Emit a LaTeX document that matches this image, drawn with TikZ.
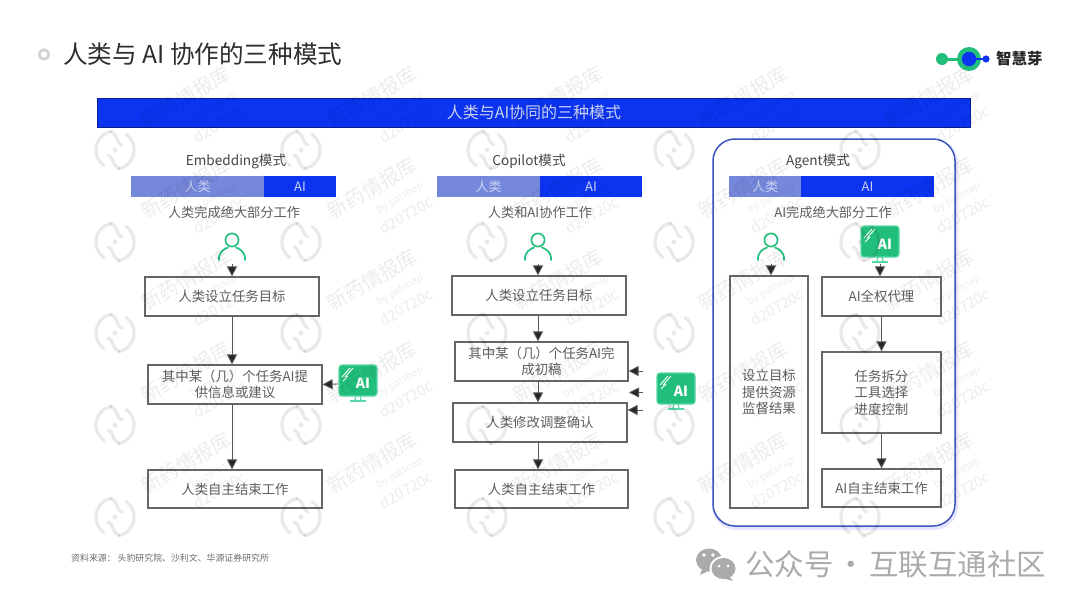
\documentclass[tikz,border=0pt]{standalone}
\usepackage{fontspec}
\setmainfont{Noto Sans CJK SC}
\usetikzlibrary{arrows.meta}
\definecolor{bluemain}{HTML}{0B33F0}
\definecolor{bluesoft}{HTML}{7688DC}
\definecolor{softtxt}{HTML}{CBD3F3}
\definecolor{greenmain}{HTML}{22BE7C}
\definecolor{greenlite}{HTML}{58D8A6}
\definecolor{txt}{HTML}{5E5E5E}
\definecolor{frame}{HTML}{3D55BE}
\definecolor{foot}{HTML}{ABABAB}
\tikzset{
  taskbox/.style={draw=black!60,line width=1.2pt,fill=white,align=center,text=txt,font=\fontsize{13.4}{16.5}\selectfont,inner sep=0pt},
  headbar/.style={fill=bluemain,text=softtxt,font=\fontsize{16}{18}\selectfont,inner sep=0pt,minimum height=29pt,minimum width=873pt},
  segh/.style={fill=bluesoft,text=softtxt,font=\fontsize{13}{15}\selectfont,inner sep=0pt,minimum height=21pt},
  sega/.style={fill=bluemain,text=softtxt,font=\fontsize{13}{15}\selectfont,inner sep=0pt,minimum height=21pt},
  modetitle/.style={text=black!72,font=\fontsize{13.6}{16}\selectfont,inner sep=0pt},
  modenote/.style={text=txt,font=\fontsize{13.2}{16}\selectfont,inner sep=0pt},
  iconspot/.style={inner sep=0pt,minimum width=28pt,minimum height=34pt},
  screenspot/.style={inner sep=0pt,minimum width=40pt,minimum height=38pt},
  flow/.style={draw=black!65,line width=.9pt,-{Triangle[length=10pt,width=10pt,fill=black!85]}},
  wmtext/.style={text=black,opacity=.075,rotate=30,inner sep=0pt},
  pics/person/.style={code={
    \draw[greenmain,line width=1.7pt] (0,-7) circle[radius=6.6];
    \draw[greenmain,line width=1.7pt,line cap=round] (-13,13) .. controls (-13.5,5) and (-8,2) .. (-4,0.5);
    \draw[greenmain,line width=1.7pt,line cap=round] (13,13) .. controls (13.5,5) and (8,2) .. (4,0.5);
  }},
  pics/aiscreen/.style={code={
    \draw[greenlite,fill=greenmain,line width=1.2pt,rounded corners=3pt] (-19,-19) rectangle (19,12);
    \draw[greenlite,line width=1.2pt] (-2,12) -- (-3,16) (2,12) -- (3,16);
    \draw[greenlite,line width=1.3pt] (-8,17) -- (8,17);
    \draw[white,line width=.9pt] (-16,-7) -- (-8,-16) (-13,-7) -- (-5,-16) (-15,-3) -- (-10,-8);
    \node[text=white,inner sep=0pt,font=\bfseries\fontsize{14}{14}\selectfont] at (5,-1) {AI};
  }},
  pics/wmlogo/.style={code={
    \begin{scope}[yscale=-1,opacity=.085,draw=black,line cap=round]
      \draw[line width=3.2pt] (-4,18.6) arc[start angle=102,end angle=235,radius=19];
      \draw[line width=3.2pt] (4,-18.6) arc[start angle=-78,end angle=55,radius=19];
      \draw[line width=3.2pt] (-4,18.6) .. controls (5,13) and (0,8) .. (7,5);
      \draw[line width=3.2pt] (4,-18.6) .. controls (-5,-13) and (0,-8) .. (-7,-5);
      \fill[black] (0,0) circle[radius=2.5];
    \end{scope}
  }}
}
\begin{document}
\begin{tikzpicture}[x=1pt,y=-1pt]
\useasboundingbox (0,0) rectangle (1080,608);
\fill[white] (0,0) rectangle (1080,608);

% heading
\draw[black!18,line width=2.6pt] (44,54.5) circle[radius=4.8];
\node[anchor=west,inner sep=0pt,text=black!82,font=\fontsize{24.6}{28}\selectfont] (maintitle) at (63,54) {人类与 AI 协作的三种模式};

% brand mark
\draw[greenmain,line width=3pt] (942,59) -- (969,59);
\fill[greenmain] (942,59) circle[radius=6];
\fill[greenmain] (969,59) circle[radius=12];
\draw[bluemain,line width=1.5pt] (969,59) -- (986,59);
\fill[bluemain] (969,59) circle[radius=7.2];
\fill[bluemain] (986,59) circle[radius=3.6];
\node[anchor=west,inner sep=0pt,text=black!85,font=\bfseries\fontsize{15.4}{16}\selectfont] (brand) at (996,59) {智慧芽};

% banner
\node[headbar,draw=black!40!bluemain,line width=.6pt] (banner) at (534,112.5) {人类与AI协同的三种模式};

% agent frame
\draw[blue!10,line width=4pt,rounded corners=22pt] (714,141) rectangle (956,528);
\draw[frame,line width=1.5pt,fill=white,rounded corners=22pt] (713,139) rectangle (955,526);

% Embedding column
\node[modetitle] (t1) at (236,161) {Embedding模式};
\node[segh,minimum width=133pt] (h1) at (197.5,186.5) {人类};
\node[sega,minimum width=72pt] (a1) at (300,186.5) {AI};
\node[modenote] (n1) at (234,212.5) {人类完成绝大部分工作};
\node[iconspot] (p1) at (232,247) {};
\pic at (p1) {person};
\node[taskbox,minimum width=174pt,minimum height=39pt] (b11) at (232,296.5) {人类设立任务目标};
\node[taskbox,minimum width=174pt,minimum height=39pt] (b12) at (235,384.5) {其中某（几）个任务AI提\\供信息或建议};
\node[taskbox,minimum width=174pt,minimum height=38pt] (b13) at (235,489) {人类自主结束工作};
\node[screenspot] (s1) at (358,384) {};
\pic at (s1) {aiscreen};
\draw[flow] (p1.south) -- (p1.south |- b11.north);
\draw[flow] (b11.south) -- (b11.south |- b12.north);
\draw[flow] (b11.south |- b12.south) -- (b11.south |- b13.north);
\draw[flow] (s1.west) -- (b12.east);

% Copilot column
\node[modetitle] (t2) at (529,161) {Copilot模式};
\node[segh,minimum width=103pt] (h2) at (488.5,186.5) {人类};
\node[sega,minimum width=102pt] (a2) at (591,186.5) {AI};
\node[modenote] (n2) at (540,212.5) {人类和AI协作工作};
\node[iconspot] (p2) at (538,247) {};
\pic at (p2) {person};
\node[taskbox,minimum width=174pt,minimum height=39pt] (b21) at (539,295.5) {人类设立任务目标};
\node[taskbox,minimum width=173pt,minimum height=39pt] (b22) at (541.5,361.5) {其中某（几）个任务AI完\\成初稿};
\node[taskbox,minimum width=174pt,minimum height=39pt] (b23) at (540,422.5) {人类修改调整确认};
\node[taskbox,minimum width=173pt,minimum height=38pt] (b24) at (541.5,489) {人类自主结束工作};
\node[screenspot] (s2) at (676,392) {};
\pic at (s2) {aiscreen};
\coordinate (c21) at (643,371);
\coordinate (c22) at (643,392.5);
\coordinate (c23) at (643,410);
\coordinate (d22) at (629,392.5);
\draw[flow] (p2.south) -- (p2.south |- b21.north);
\draw[flow] (p2.south |- b21.south) -- (p2.south |- b22.north);
\draw[flow] (p2.south |- b22.south) -- (p2.south |- b23.north);
\draw[flow] (p2.south |- b23.south) -- (p2.south |- b24.north);
\draw[flow] (c21) -- (c21 -| b22.east);
\draw[flow] (c22) -- (d22);
\draw[flow] (c23) -- (c23 -| b23.east);

% Agent column
\node[modetitle] (t3) at (818,161) {Agent模式};
\node[segh,minimum width=72pt] (h3) at (765,186.5) {人类};
\node[sega,minimum width=133pt] (a3) at (867.5,186.5) {AI};
\node[modenote] (n3) at (833,212.5) {AI完成绝大部分工作};
\node[iconspot] (p3) at (771,247) {};
\pic at (p3) {person};
\node[screenspot] (s3) at (880,245) {};
\pic at (s3) {aiscreen};
\node[taskbox,minimum width=78pt,minimum height=232pt] (l3) at (769,392) {设立目标\\提供资源\\监督结果};
\node[taskbox,minimum width=119pt,minimum height=39pt] (b31) at (881.5,296.5) {AI全权代理};
\node[taskbox,minimum width=119pt,minimum height=81pt] (b32) at (881.5,392.5) {任务拆分\\工具选择\\进度控制};
\node[taskbox,minimum width=119pt,minimum height=38pt] (b33) at (881.5,488) {AI自主结束工作};
\draw[flow] (p3.south) -- (p3.south |- l3.north);
\draw[flow] (s3.south) -- (s3.south |- b31.north);
\draw[flow] (b31.south) -- (b32.north);
\draw[flow] (b32.south) -- (b33.north);

% source
\node[anchor=west,inner sep=0pt,text=black!58,font=\fontsize{8.9}{10}\selectfont] (src) at (71,558) {资料来源： 头豹研究院、沙利文、华源证券研究所};

% footer mark
\fill[foot] (709,560) ellipse[x radius=13,y radius=11.5];
\fill[foot] (702,569) -- (700,575) -- (708,571) -- cycle;
\fill[white] (723.5,568.5) ellipse[x radius=14,y radius=12.5];
\fill[foot] (723.5,568.5) ellipse[x radius=12,y radius=10.5];
\fill[foot] (729,576) -- (733,581) -- (722,578) -- cycle;
\fill[white] (704,555) circle[radius=1.8] (713,555) circle[radius=1.8] (719,566) circle[radius=1.5] (728,566) circle[radius=1.5];
\node[anchor=west,inner sep=0pt,text=foot,font=\fontsize{29.5}{32}\selectfont] (wechat) at (745,564) {公众号\hspace{2.5pt}·\hspace{3.5pt}互联互通社区};

% watermark
\foreach \wx in {115,301,487,674,860} {
  \foreach \wy in {150,242,333,425,517} {
    \pic at (\wx,\wy) {wmlogo};
  }
}
\foreach \wx in {186,372,558,743,929} {
  \foreach \wy in {97,188,280,372,463} {
    \node[wmtext,font=\fontsize{20}{20}\selectfont] at (\wx,\wy) {新药情报库};
    \node[wmtext,font=\fontsize{10}{10}\selectfont] at (\wx+28,\wy+10) {by patsnap};
    \node[wmtext,font=\fontsize{15}{15}\selectfont] at (\wx+34,\wy+27) {d20720c};
  }
}
\end{tikzpicture}
\end{document}
